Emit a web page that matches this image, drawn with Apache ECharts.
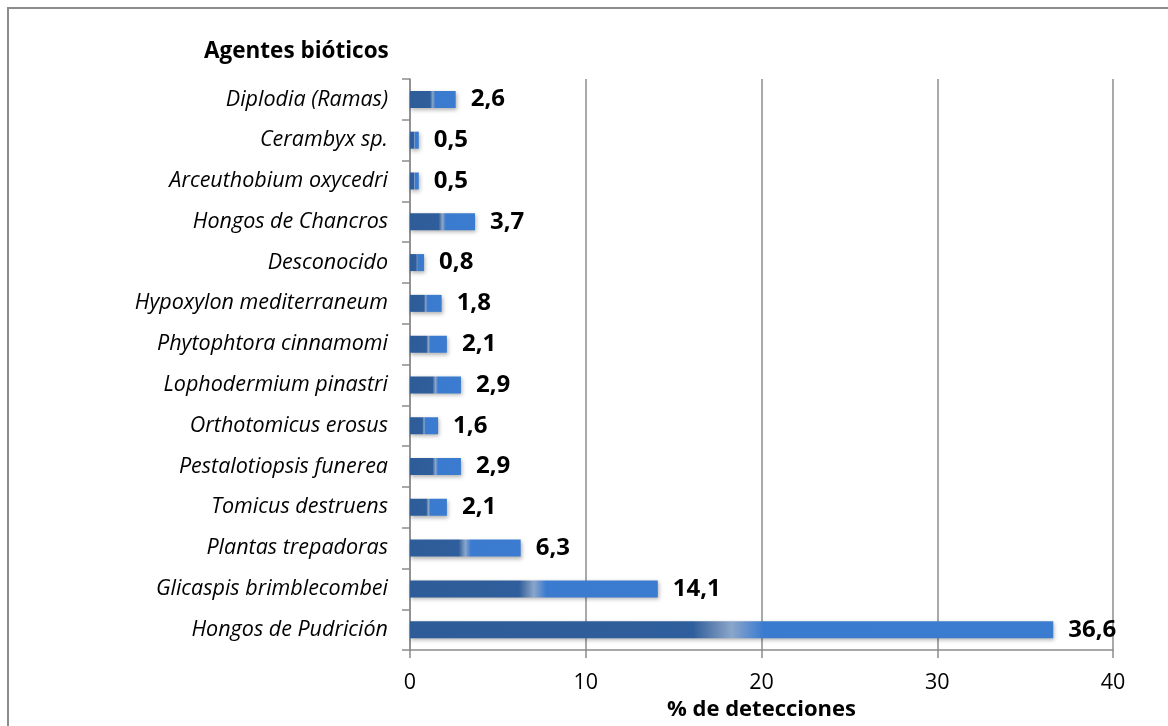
<!DOCTYPE html>
<html>
<head>
<meta charset="utf-8">
<script src="https://cdn.jsdelivr.net/npm/echarts@6/dist/echarts.min.js"></script>
<style>
  html, body { margin: 0; padding: 0; background: #fff; }
  #chart { width: 1168px; height: 726px; }
</style>
</head>
<body>
<div id="chart"></div>
<script>
  // categorias de arriba a abajo
  var agentes = ['Diplodia (Ramas)', 'Cerambyx sp.', 'Arceuthobium oxycedri', 'Hongos de Chancros',
    'Desconocido', 'Hypoxylon mediterraneum', 'Phytophtora cinnamomi', 'Lophodermium pinastri',
    'Orthotomicus erosus', 'Pestalotiopsis funerea', 'Tomicus destruens', 'Plantas trepadoras',
    'Glicaspis brimblecombei', 'Hongos de Pudrición']
  var detecciones = [2.6, 0.5, 0.5, 3.7, 0.8, 1.8, 2.1, 2.9, 1.6, 2.9, 2.1, 6.3, 14.1, 36.6]
  var ticksX = [0, 10, 20, 30, 40]

  var font = 'Open Sans'
  var myChart = echarts.init(document.getElementById('chart'))
  myChart.setOption({
    animation: false,
    textStyle: { fontFamily: font },
    title: {
      text: 'Agentes bióticos',
      left: 199,
      top: 35,
      textStyle: { fontFamily: font, fontSize: 22.5, fontWeight: 'bold', color: '#000' }
    },
    graphic: [{
      type: 'rect',
      shape: { x: 8, y: 8, width: 1170, height: 740 },
      style: { fill: 'none', stroke: '#8c8c8c', lineWidth: 2 },
      silent: true
    }],
    grid: { left: 410, right: 55, top: 79, bottom: 75 },
    xAxis: {
      type: 'value',
      min: ticksX[0],
      max: ticksX[ticksX.length - 1],
      interval: 10,
      name: '% de detecciones',
      nameLocation: 'middle',
      nameGap: 48,
      nameTextStyle: { fontFamily: font, fontSize: 22, fontWeight: 'bold', color: '#000' },
      axisLine: { show: true, lineStyle: { color: '#8c8c8c', width: 1.5 } },
      axisTick: { show: true, length: 8, lineStyle: { color: '#8c8c8c', width: 1.5 } },
      axisLabel: { fontFamily: font, fontSize: 21.5, color: '#000', margin: 22 },
      splitLine: { show: true, lineStyle: { color: '#8c8c8c', width: 1.5 } }
    },
    yAxis: {
      type: 'category',
      inverse: true,
      data: agentes,
      axisLine: { show: true, lineStyle: { color: '#8c8c8c', width: 1.5 } },
      axisTick: { show: true, length: 8, lineStyle: { color: '#8c8c8c', width: 1.5 } },
      axisLabel: { fontFamily: font, fontSize: 21.5, fontStyle: 'italic', color: '#000', margin: 22 }
    },
    series: [{
      type: 'bar',
      data: detecciones,
      barWidth: 17,
      itemStyle: {
        color: new echarts.graphic.LinearGradient(0, 0, 1, 0, [
          { offset: 0, color: '#2d5c98' },
          { offset: 0.44, color: '#2f5e9c' },
          { offset: 0.47, color: '#5f82b0' },
          { offset: 0.5, color: '#8aa6cb' },
          { offset: 0.52, color: '#6a94cc' },
          { offset: 0.55, color: '#3a7bd0' },
          { offset: 1, color: '#3b7cd1' }
        ]),
        shadowColor: 'rgba(0,0,0,0.3)',
        shadowBlur: 4,
        shadowOffsetX: 1,
        shadowOffsetY: 2
      },
      label: {
        show: true,
        position: 'right',
        distance: 15,
        fontFamily: font,
        fontSize: 24,
        fontWeight: 'bold',
        color: '#000',
        formatter: function (p) {
          return p.value.toFixed(1).replace('.', ',')
        }
      }
    }]
  })
</script>
</body>
</html>
